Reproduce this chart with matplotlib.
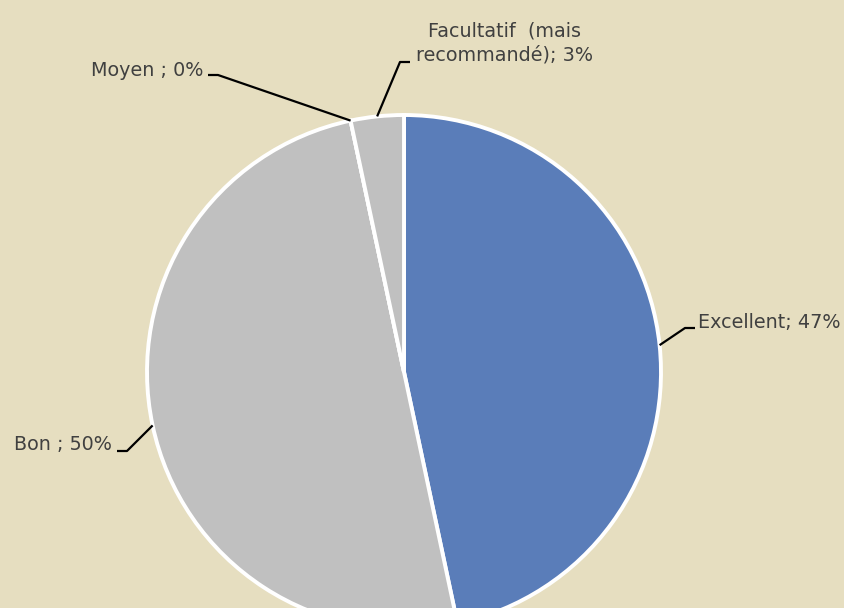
import numpy as np
import matplotlib
matplotlib.use("Agg")
import matplotlib.pyplot as plt

# ---- data ----
categories = ["Excellent", "Bon", "Moyen", "Facultatif  (mais\nrecommandé)"]
values = [14, 15, 0, 1]
pct_labels = ["47%", "50%", "0%", "3%"]
label_seps = ["; ", " ; ", " ; ", "; "]
colors = ["#5A7DB9", "#C0C0C0", "#C0C0C0", "#C0C0C0"]

BG = "#E6DEC0"
W, H = 844, 608
fig = plt.figure(figsize=(W / 100, H / 100), dpi=100, facecolor=BG)
ax = fig.add_axes([0, 0, 1, 1])
ax.set_facecolor(BG)

cx, cy, R = 404, H - 372, 257
wedges, _ = ax.pie(values, colors=colors, startangle=90, counterclock=False,
                   center=(cx, cy), radius=R, frame=True,
                   wedgeprops=dict(edgecolor="white", linewidth=2.8))
ax.set_xlim(0, W)
ax.set_ylim(0, H)
ax.set_aspect("equal")
ax.axis("off")

# label layout (pixel coords from top): elbow point, end of horizontal, text pos, alignment
layout = [
    dict(elbow=(685, 328), end=(695, 328), text=(698, 323), ha="left"),
    dict(elbow=(127, 451), end=(117, 451), text=(112, 444), ha="right"),
    dict(elbow=(218, 75), end=(208, 75), text=(203, 70), ha="right"),
    dict(elbow=(400, 62), end=(410, 62), text=(504, 43), ha="center"),
]

font = dict(family="DejaVu Sans", size=13.8, color="#404040")
for w, cat, sep, pct, lay in zip(wedges, categories, label_seps, pct_labels, layout):
    ang = np.deg2rad((w.theta1 + w.theta2) / 2)
    ax_, ay_ = cx + R * np.cos(ang), cy + R * np.sin(ang)
    ex, ey = lay["elbow"]
    hx, hy = lay["end"]
    ax.plot([ax_, ex, hx], [ay_, H - ey, H - hy], color="black", lw=1.6,
            solid_capstyle="butt", zorder=5)
    tx, ty = lay["text"]
    ax.text(tx, H - ty, f"{cat}{sep}{pct}", ha=lay["ha"], va="center",
            multialignment="center", linespacing=1.3, **font)

fig.savefig("out.png", dpi=100, facecolor=BG)
